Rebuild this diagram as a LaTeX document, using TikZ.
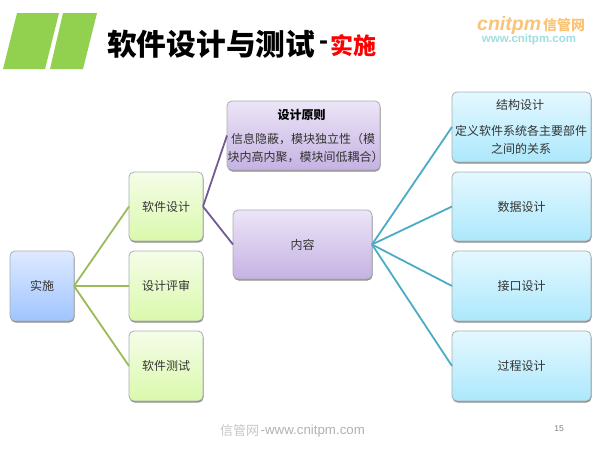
\documentclass[tikz,border=0pt]{standalone}
\usepackage{fontspec}
\setmainfont{Noto Sans CJK SC}
\newfontfamily\latinfont{Liberation Sans}
\usetikzlibrary{shadows}
\definecolor{barGreen}{HTML}{92D050}
\definecolor{linkGreen}{HTML}{9BBB59}
\definecolor{linkPurple}{HTML}{725A94}
\definecolor{linkTeal}{HTML}{4BACC6}
\definecolor{edgeGray}{HTML}{A8AEB0}
\definecolor{inkGray}{HTML}{333333}
\tikzset{
  x=1pt, y=-1pt,
  box/.style={rectangle, rounded corners=5pt, draw=edgeGray, line width=0.8pt,
    inner sep=0pt, outer sep=0pt, anchor=north west, shade, shading angle=0,
    text=inkGray, font=\fontsize{12}{14}\selectfont,
    drop shadow={shadow xshift=0.5pt, shadow yshift=-1.5pt, fill=black, opacity=0.45}},
  blue box/.style={box, top color={rgb,255:red,222;green,234;blue,255}, bottom color={rgb,255:red,160;green,196;blue,255}},
  green box/.style={box, top color={rgb,255:red,245;green,253;blue,232}, bottom color={rgb,255:red,218;green,249;blue,172}},
  purple box/.style={box, top color={rgb,255:red,236;green,229;blue,247}, bottom color={rgb,255:red,197;green,178;blue,226}},
  cyan box/.style={box, top color={rgb,255:red,228;green,248;blue,255}, bottom color={rgb,255:red,172;green,232;blue,252}},
  label text/.style={text=inkGray, inner sep=0pt, align=center},
  green link/.style={draw=linkGreen, line width=1.8pt},
  purple link/.style={draw=linkPurple, line width=1.8pt},
  teal link/.style={draw=linkTeal, line width=1.8pt},
}
\begin{document}
\begin{tikzpicture}
\useasboundingbox (0,0) rectangle (600,450);
\fill[white] (0,0) rectangle (600,450);

% heading bars
\fill[barGreen] (17,13) -- (59,13) -- (45,69) -- (3,69) -- cycle;
\fill[barGreen] (63,13) -- (97,13) -- (83,69) -- (50,69) -- cycle;

% heading
\node[anchor=west, inner sep=0pt, font=\fontsize{29.7}{32}\selectfont\bfseries] (title) at (107,44.5) {软件设计与测试};
\node[anchor=west, inner sep=0pt, font=\fontsize{27}{30}\latinfont\bfseries] (dash) at (319,45) {-};
\node[anchor=west, inner sep=0pt, text=red, font=\fontsize{23}{26}\selectfont\bfseries] (sub) at (330,46) {实施};

% site mark
\node[anchor=west, inner sep=0pt, text={rgb,255:red,250;green,196;blue,120}, font=\fontsize{19.5}{20}\latinfont\bfseries\itshape] (markA) at (477,25) {cnitpm};
\node[anchor=west, inner sep=0pt, text={rgb,255:red,250;green,196;blue,120}, font=\fontsize{14}{15}\selectfont\bfseries] (markB) at (543,25) {信管网};
\node[anchor=center, inner sep=0pt, text={rgb,255:red,160;green,222;blue,226}, font=\fontsize{11.5}{13}\latinfont\bfseries] (markC) at (529,39.5) {www.cnitpm.com};

% boxes
\node[blue box, minimum width=64pt, minimum height=70pt] (root) at (10,251) {实施};
\node[green box, minimum width=74pt, minimum height=69pt] (soft) at (129,172) {软件设计};
\node[green box, minimum width=74pt, minimum height=70pt] (review) at (129,251) {设计评审};
\node[green box, minimum width=74pt, minimum height=70pt] (test) at (129,331) {软件测试};
\node[purple box, minimum width=153pt, minimum height=69pt] (rule) at (227,101) {};
\node[purple box, minimum width=139pt, minimum height=69pt] (content) at (233,210) {内容};
\node[cyan box, minimum width=139pt, minimum height=70pt] (struct) at (452,92) {};
\node[cyan box, minimum width=139pt, minimum height=69pt] (data) at (452,172) {数据设计};
\node[cyan box, minimum width=139pt, minimum height=70pt] (iface) at (452,251) {接口设计};
\node[cyan box, minimum width=139pt, minimum height=70pt] (proc) at (452,331) {过程设计};

% box contents set in several lines
\node[label text, font=\fontsize{12}{14}\selectfont\bfseries, text=black] (ruleHead) at (301.5,114.5) {设计原则};
\node[label text, font=\fontsize{12}{14}\selectfont] (ruleA) at (303,139.5) {信息隐蔽，模块独立性（模};
\node[label text, font=\fontsize{12}{14}\selectfont] (ruleB) at (305.5,157.5) {块内高内聚，模块间低耦合）};
\node[label text, font=\fontsize{12}{14}\selectfont] (structHead) at (520,105) {结构设计};
\node[label text, font=\fontsize{12}{14}\selectfont] (structA) at (521,130.5) {定义软件系统各主要部件};
\node[label text, font=\fontsize{12}{14}\selectfont] (structB) at (521,148.5) {之间的关系};

% connectors
\draw[green link] (root.east) -- (soft.west);
\draw[green link] (root.east) -- (review.west);
\draw[green link] (root.east) -- (test.west);
\draw[purple link] (soft.east) -- (rule.west);
\draw[purple link] (soft.east) -- (content.west);
\draw[teal link] (content.east) -- (struct.west);
\draw[teal link] (content.east) -- (data.west);
\draw[teal link] (content.east) -- (iface.west);
\draw[teal link] (content.east) -- (proc.west);

% footer
\node[anchor=west, inner sep=0pt, text=black!22, font=\fontsize{13}{15}\selectfont] (footA) at (220,431) {信管网};
\node[anchor=west, inner sep=0pt, text=black!30, font=\fontsize{13.3}{15}\latinfont] (footB) at (260.5,431) {-www.cnitpm.com};
\node[inner sep=0pt, text=black!50, font=\fontsize{8.5}{10}\latinfont] (page) at (559,429) {15};
\end{tikzpicture}
\end{document}
